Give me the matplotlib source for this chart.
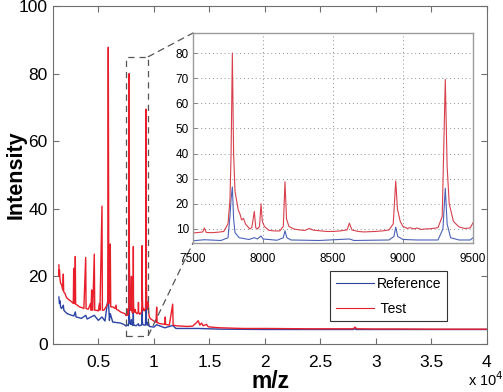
import matplotlib
matplotlib.use("Agg")
import matplotlib.pyplot as plt
from matplotlib.patches import Rectangle, ConnectionPatch

plt.rcParams['font.family'] = ['Liberation Sans', 'DejaVu Sans']

# Test spectrum (red), m/z and intensity
test_mz = [1450, 1480, 1500, 1550, 1600, 1700, 1800, 1850, 1880, 2000, 2100,
           2200, 2400, 2600, 2750, 2786, 2820, 2900, 2930, 2960, 3100, 3300,
           3500, 3700, 3866, 3900, 4100, 4300, 4350, 4400, 4430, 4500, 4640,
           4680, 4800, 5000, 5100, 5150, 5333, 5370, 5500, 5700, 5850, 5900,
           5950, 6000, 6080, 6120, 6300, 6500, 6600, 6650, 6800, 7000, 7200,
           7400,
           7500, 7540, 7570, 7581, 7595, 7630, 7680, 7720, 7750, 7764, 7772,
           7781, 7790, 7800, 7823, 7835, 7847, 7860, 7875, 7890, 7905, 7920,
           7938, 7948, 7962, 7975, 7986, 7995, 8010, 8040, 8080, 8120, 8145,
           8157, 8168, 8185, 8220, 8260, 8300, 8330, 8360, 8400, 8450, 8500,
           8550, 8600, 8617, 8635, 8680, 8720, 8760, 8800, 8850, 8900, 8930,
           8948, 8960, 8980, 9000, 9030, 9050, 9080, 9100, 9130, 9160, 9200,
           9250, 9280, 9302, 9315, 9330, 9360, 9400, 9440, 9480, 9500,
           9550, 9600, 9700, 10000, 10200, 10257, 10300, 10600, 11000, 11030,
           11060, 11400, 11700, 11740, 12000, 12500, 13000, 13500, 13900,
           14000, 14150, 14300, 14450, 14750, 14900, 15500, 16000, 17000,
           18000, 20000, 22000, 24000, 26000, 28000, 28100, 28300, 30000,
           32000, 35000, 38000, 40000]
test_int = [23.4, 20.0, 22.0, 19.5, 18.0, 17.5, 16.0, 20.7, 15.5, 15.0, 14.0,
            13.5, 13.0, 12.5, 12.0, 22.4, 12.0, 12.0, 25.9, 11.8, 11.5, 11.0,
            10.8, 10.5, 25.6, 10.5, 10.3, 12.0, 10.0, 16.0, 10.2, 10.0, 26.6,
            10.0, 10.0, 9.8, 12.0, 10.0, 40.8, 10.0, 10.0, 11.0, 12.0, 87.8,
            12.0, 13.0, 29.6, 11.0, 11.0, 10.5, 11.5, 10.2, 10.0, 9.5, 9.2,
            9.0,
            8.4, 8.6, 8.8, 10.4, 8.6, 8.5, 8.7, 9.0, 12.0, 21.5, 40.0,
            80.0, 40.0, 25.0, 17.6, 16.0, 13.6, 14.2, 12.0, 11.0, 10.0, 10.5,
            17.0, 10.5, 10.0, 11.0, 20.0, 13.0, 11.0, 9.5, 9.2, 9.2, 11.0,
            28.8, 14.0, 11.0, 10.0, 9.6, 9.4, 10.2, 9.5, 9.3, 9.0, 9.0,
            9.2, 9.6, 12.3, 9.6, 9.0, 8.8, 8.9, 9.0, 9.2, 9.6, 12.0,
            29.1, 18.0, 13.0, 11.0, 10.2, 10.5, 10.0, 10.4, 9.8, 10.0, 10.1,
            10.5, 15.0, 69.5, 35.0, 20.0, 13.0, 10.8, 10.2, 10.4, 12.5,
            9.0, 8.0, 7.5, 6.8, 6.5, 10.9, 6.3, 6.0, 5.8, 8.0,
            5.8, 5.6, 11.8, 5.6, 5.4, 5.3, 5.2, 5.3, 6.5,
            6.9, 5.6, 6.2, 5.4, 5.8, 5.1, 4.9, 4.8, 4.7,
            4.6, 4.6, 4.55, 4.5, 4.5, 4.5, 5.0, 4.5, 4.45,
            4.45, 4.4, 4.4, 4.4]

# Reference spectrum (blue)
ref_mz = [1450, 1500, 1550, 1600, 1700, 1850, 1900, 2000, 2200, 2500, 2800,
          2930, 3000, 3500, 3866, 4000, 4640, 5000, 5333, 5600, 5900, 6000,
          6080, 6300, 7000, 7300,
          7500, 7581, 7700, 7750, 7764, 7772, 7781, 7790, 7800, 7830, 7860,
          7900, 7938, 7960, 7986, 8000, 8100, 8145, 8157, 8170, 8200, 8400,
          8617, 8650, 8900, 8935, 8948, 8962, 9000, 9100, 9250, 9285, 9302,
          9315, 9340, 9400, 9480, 9500,
          9600, 10000, 10257, 11000, 11700, 12000, 14000, 16000, 20000,
          28000, 28100, 28200, 40000]
ref_int = [13.9, 12.0, 12.8, 11.0, 10.5, 11.5, 10.0, 9.6, 9.0, 8.6, 8.3,
           9.5, 8.0, 7.6, 8.5, 7.4, 8.5, 7.0, 8.0, 6.8, 14.0, 7.0,
           9.0, 6.5, 6.2, 5.8,
           5.3, 5.7, 5.4, 6.5, 15.0, 22.0, 26.7, 14.0, 8.5, 6.5, 6.2,
           5.8, 6.5, 6.0, 7.2, 6.0, 5.5, 6.5, 9.3, 6.5, 5.6, 5.4,
           6.0, 5.4, 5.6, 7.0, 10.7, 7.0, 5.8, 5.6, 5.6, 10.0, 26.2,
           12.0, 6.5, 5.6, 5.6, 6.5,
           5.2, 5.0, 5.7, 4.8, 5.5, 4.6, 4.6, 4.4, 4.3,
           4.3, 4.7, 4.3, 4.3]

main_xticks = [5000, 10000, 15000, 20000, 25000, 30000, 35000, 40000]
main_xlabels = ['0.5', '1', '1.5', '2', '2.5', '3', '3.5', '4']
main_yticks = [0, 20, 40, 60, 80, 100]
zoom_x = (7500, 9500)
zoom_y = (2.5, 85)
inset_xticks = [7500, 8000, 8500, 9000, 9500]
inset_yticks = [10, 20, 30, 40, 50, 60, 70, 80]

blue = '#2b44a6'
red = '#e81e2a'
frame = '#6e6e6e'

fig = plt.figure(figsize=(5.03, 3.92), dpi=100)
ax = fig.add_axes([0.106, 0.1224, 0.862, 0.8622])
ax.plot(ref_mz, ref_int, color=blue, lw=1.0, label='Reference')
ax.plot(test_mz, test_int, color=red, lw=1.0, label=' Test')
ax.set_xlim(950, 40000)
ax.set_ylim(0, 100)
ax.set_xticks(main_xticks)
ax.set_xticklabels(main_xlabels)
ax.set_yticks(main_yticks)
ax.tick_params(direction='in', top=True, right=True, length=4, width=0.8,
               color=frame, labelsize=12.5)
ax.tick_params(axis='x', pad=8)
ax.tick_params(axis='y', pad=4)
for s in ax.spines.values():
    s.set_color(frame)
    s.set_linewidth(0.8)
ax.set_xlabel('m/z', fontsize=16.5, fontweight='bold', labelpad=0)
ax.set_ylabel('Intensity', fontsize=15.5, fontweight='bold')
ax.yaxis.set_label_coords(-0.061, 0.5)
fig.text(0.93, 0.008, r'x 10$^4$', fontsize=10.5, ha='left', va='bottom')

# dashed zoom box on the main axes
ax.add_patch(Rectangle((zoom_x[0], zoom_y[0]), zoom_x[1] - zoom_x[0],
                       zoom_y[1] - zoom_y[0], fill=False, ls=(0, (5, 4)),
                       lw=0.9, ec='#555555', zorder=5))

ins = fig.add_axes([0.3837, 0.3801, 0.5567, 0.5357])
ins.set_zorder(3)
ins.plot(ref_mz, ref_int, color='#4a62b8', lw=0.8)
ins.plot(test_mz, test_int, color='#d8404c', lw=0.8)
ins.set_xlim(*zoom_x)
ins.set_ylim(4.4, 88)
ins.set_xticks(inset_xticks)
ins.set_yticks(inset_yticks)
ins.grid(True, ls=(0, (1, 3)), color='#909090', lw=0.7)
ins.tick_params(direction='in', length=3, width=0.6, color=frame,
                labelsize=8.5)
ins.tick_params(axis='x', pad=7)
ins.tick_params(axis='y', pad=3)
for s in ins.spines.values():
    s.set_color('#9a9a9a')
    s.set_linewidth(1.0)

for xy_main, xy_ins in [((zoom_x[1], zoom_y[1]), (0, 1)),
                        ((zoom_x[1], zoom_y[0]), (0, 0))]:
    cp = ConnectionPatch(xyA=xy_main, coordsA=ax.transData,
                         xyB=xy_ins, coordsB=ins.transAxes,
                         ls=(0, (5, 4)), lw=0.9, color='#555555', zorder=2)
    fig.add_artist(cp)

h, l = ax.get_legend_handles_labels()
leg = fig.legend(h, l, loc='upper left', bbox_to_anchor=(330 / 503, 1 - 271 / 392),
                 borderaxespad=0, fancybox=False, edgecolor='#333333',
                 fontsize=10, handlelength=2.8, borderpad=0.4,
                 labelspacing=0.8, handletextpad=0.15, framealpha=1)
leg.set_zorder(6)
leg.get_frame().set_linewidth(0.8)
for ln in leg.get_lines():
    ln.set_linewidth(0.8)

fig.savefig('out.png', dpi=100)
